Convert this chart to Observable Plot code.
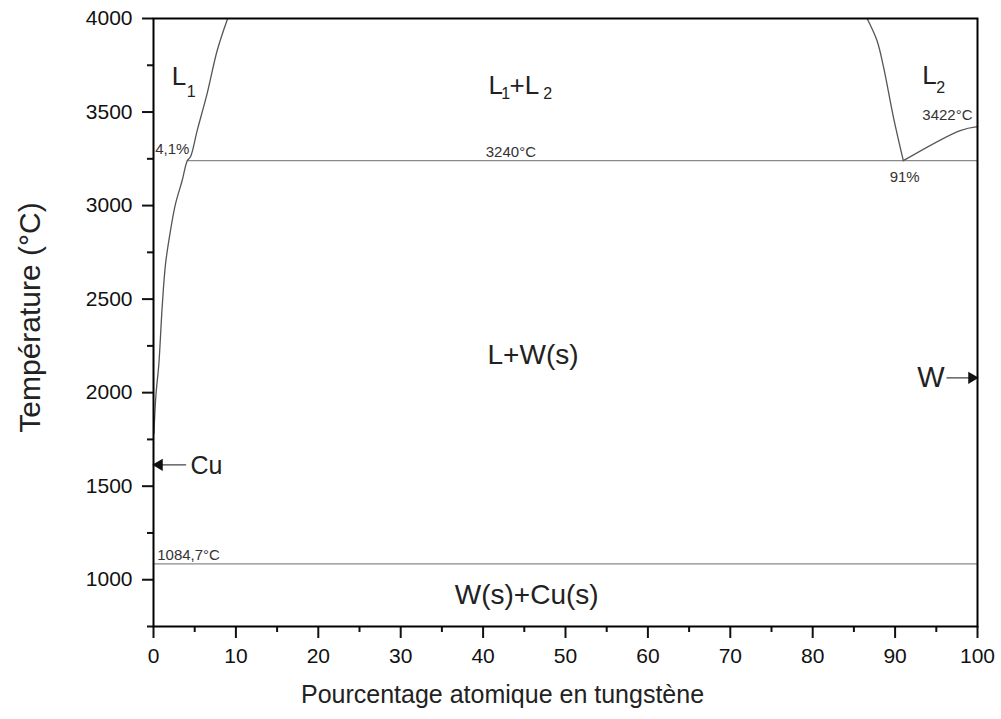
<!DOCTYPE html>
<html>
<head>
<meta charset="utf-8">
<script src="https://cdn.jsdelivr.net/npm/d3@7"></script>
<script src="https://cdn.jsdelivr.net/npm/@observablehq/plot@0.6"></script>
<style>
  html, body { margin: 0; padding: 0; background: #fff; }
  #chart svg { display: block; }
</style>
</head>
<body>
<div id="chart"></div>
<script>
// ---- data (atomic % W, temperature °C) ----
const cuLiquidusX = [0.05, 0.3, 0.65, 1.05, 1.46, 2.06, 2.67, 3.48, 4.1, 4.5, 5.3, 6.5, 7.73, 9.0];
const cuLiquidusT = [1780, 1990, 2153, 2456, 2688, 2866, 3009, 3134, 3240, 3262, 3401, 3597, 3829, 4000];
const wMiscX = [86.6, 87.8, 88.6, 89.8, 91.0];
const wMiscT = [4000, 3882, 3740, 3472, 3240];
const wLiquidusX = [91.0, 97.9, 100];
const wLiquidusT = [3240, 3401, 3422];
const monotecticX = [4.1, 100];
const monotecticT = [3240, 3240];
const eutecticX = [0, 100];
const eutecticT = [1084.7, 1084.7];

const xTicks = [0, 10, 20, 30, 40, 50, 60, 70, 80, 90, 100];
const xMinor = [5, 15, 25, 35, 45, 55, 65, 75, 85, 95];
const yTicks = [1000, 1500, 2000, 2500, 3000, 3500, 4000];
const yMinor = [750, 1250, 1750, 2250, 2750, 3250, 3750];

// region labels (large)
const bigText = ["L+W(s)", "W(s)+Cu(s)"];
const bigX = [46.06, 45.29];
const bigT = [2154, 871];
// subscripted labels: main pieces and subscript pieces
const mainText = ["L", "L", "+L", "L"];
const mainX = [2.2, 40.66, 43.2, 93.3];
const mainT = [3642, 3599, 3599, 3651];
const subText = ["1", "1", "2", "2"];
const subX = [4.05, 42.2, 47.3, 95.0];
const subT = [3579, 3572, 3572, 3603];
// small annotations, left-anchored
const smallLeftText = ["4,1%", "3422°C", "1084,7°C"];
const smallLeftX = [0.2, 93.3, 0.45];
const smallLeftT = [3277, 3455, 1108];
// small annotations, centred
const smallMidText = ["3240°C", "91%"];
const smallMidX = [43.37, 91.16];
const smallMidT = [3259, 3125];
// pure element arrows
const cuArrowX = [3.9, 0];
const cuArrowT = [1614, 1614];
const cuLabel = "Cu";
const cuLabelX = 4.49;
const cuLabelT = 1566;
const wArrowX = [96.3, 100];
const wArrowT = [2079, 2079];
const wLabel = "W";
const wLabelX = 96.0;
const wLabelT = 2029;

const xLabel = "Pourcentage atomique en tungstène";
const yLabel = "Température (°C)";

const toPts = (xs, ts) => xs.map((x, i) => ({x, t: ts[i]}));
const font = "'Liberation Sans', Arial, sans-serif";
const curveColor = "#555";
const hLineColor = "#8a8a8a";
const textColor = "#222";

const plot = Plot.plot({
  width: 1001,
  height: 719,
  marginLeft: 153,
  marginRight: 24,
  marginTop: 18,
  marginBottom: 93,
  style: {fontFamily: font, background: "#fff", color: "#111"},
  x: {domain: [0, 100]},
  y: {domain: [750, 4000]},
  marks: [
    Plot.line(toPts(eutecticX, eutecticT), {x: "x", y: "t", stroke: hLineColor, strokeWidth: 1.3}),
    Plot.line(toPts(monotecticX, monotecticT), {x: "x", y: "t", stroke: hLineColor, strokeWidth: 1.3}),
    Plot.line(toPts(cuLiquidusX, cuLiquidusT), {x: "x", y: "t", stroke: curveColor, strokeWidth: 1.3, curve: "catmull-rom"}),
    Plot.line(toPts(wMiscX, wMiscT), {x: "x", y: "t", stroke: curveColor, strokeWidth: 1.3, curve: "catmull-rom"}),
    Plot.line(toPts(wLiquidusX, wLiquidusT), {x: "x", y: "t", stroke: curveColor, strokeWidth: 1.3, curve: "catmull-rom"}),
    // arrows
    Plot.line(toPts(cuArrowX, cuArrowT), {x: "x", y: "t", stroke: "#444", strokeWidth: 1.3}),
    Plot.line(toPts(wArrowX, wArrowT), {x: "x", y: "t", stroke: "#444", strokeWidth: 1.3}),
    Plot.dot([cuArrowX[1]], {x: d => d + 0.7, y: cuArrowT[1], symbol: "triangle", r: 4.5, fill: "#111", stroke: "none", rotate: -90}),
    Plot.dot([wArrowX[1]], {x: d => d - 0.7, y: wArrowT[1], symbol: "triangle", r: 4.5, fill: "#111", stroke: "none", rotate: 90}),
    Plot.text([cuLabel], {x: cuLabelX, y: cuLabelT, text: d => d, textAnchor: "start", lineAnchor: "bottom", fontSize: 25, fill: textColor}),
    Plot.text([wLabel], {x: wLabelX, y: wLabelT, text: d => d, textAnchor: "end", lineAnchor: "bottom", fontSize: 29, fill: textColor}),
    // region labels
    Plot.text(bigText, {x: (d, i) => bigX[i], y: (d, i) => bigT[i], text: d => d, textAnchor: "middle", lineAnchor: "bottom", fontSize: 28, fill: textColor}),
    Plot.text(mainText, {x: (d, i) => mainX[i], y: (d, i) => mainT[i], text: d => d, textAnchor: "start", lineAnchor: "bottom", fontSize: 26, fill: textColor}),
    Plot.text(subText, {x: (d, i) => subX[i], y: (d, i) => subT[i], text: d => d, textAnchor: "start", lineAnchor: "bottom", fontSize: 16, fill: textColor}),
    Plot.text(smallLeftText, {x: (d, i) => smallLeftX[i], y: (d, i) => smallLeftT[i], text: d => d, textAnchor: "start", lineAnchor: "bottom", fontSize: 15, fill: "#333"}),
    Plot.text(smallMidText, {x: (d, i) => smallMidX[i], y: (d, i) => smallMidT[i], text: d => d, textAnchor: "middle", lineAnchor: "bottom", fontSize: 15, fill: "#333"}),
    // axes
    Plot.axisX(xMinor, {tickSize: 6, strokeWidth: 2, tickFormat: () => "", label: null}),
    Plot.axisY(yMinor, {tickSize: 6, strokeWidth: 2, tickFormat: () => "", label: null}),
    Plot.axisX(xTicks, {tickSize: 12, tickPadding: 10, strokeWidth: 2, fontSize: 21, tickFormat: d => String(d), label: null, fill: "#111"}),
    Plot.axisY(yTicks, {tickSize: 11, tickPadding: 10, strokeWidth: 2, fontSize: 21, tickFormat: d => String(d), label: null, fill: "#111"}),
    Plot.frame({stroke: "#000", strokeWidth: 2}),
    Plot.text([xLabel], {frameAnchor: "bottom", dx: -63, dy: 76, textAnchor: "middle", lineAnchor: "bottom", fontSize: 25, fill: textColor}),
    Plot.text([yLabel], {frameAnchor: "left", dx: -123, dy: -5, rotate: -90, textAnchor: "middle", lineAnchor: "middle", fontSize: 30, fill: textColor})
  ]
});
document.getElementById("chart").appendChild(plot);
</script>
</body>
</html>
